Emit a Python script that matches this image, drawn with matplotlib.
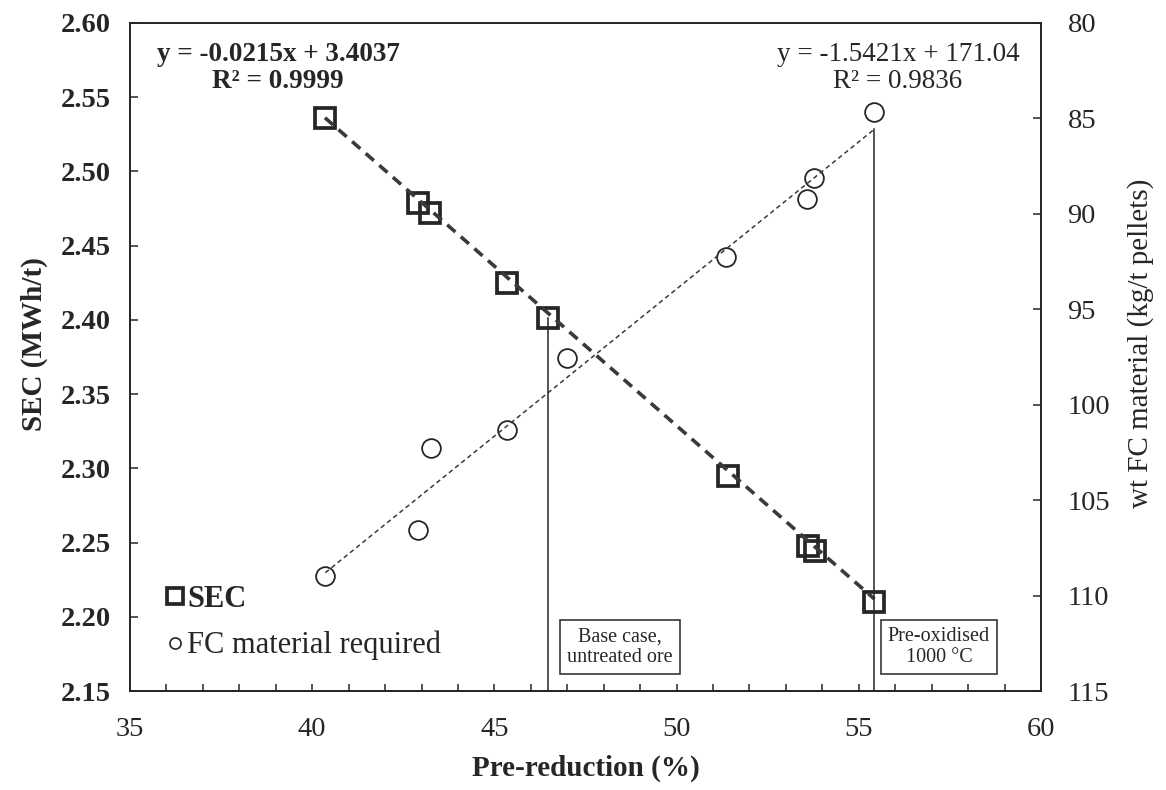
import numpy as np
import matplotlib.pyplot as plt
from matplotlib.lines import Line2D

plt.rcParams['font.family'] = ['Liberation Serif', 'DejaVu Serif']

# Specific energy consumption vs. pre-reduction degree
pre_red_sec = [40.35, 42.91, 43.23, 45.35, 46.46, 51.42, 53.60, 53.80, 55.43]
sec = [2.536, 2.479, 2.472, 2.425, 2.401, 2.295, 2.248, 2.244, 2.210]

# Fossil-carbon material required vs. pre-reduction degree
pre_red_fc = [40.36, 42.91, 43.25, 45.35, 47.00, 51.36, 53.58, 53.76, 55.43]
fc = [109.0, 106.55, 102.26, 101.30, 97.54, 92.24, 89.20, 88.10, 84.65]

# Linear trend lines
sec_slope, sec_icpt, sec_r2 = -0.0215, 3.4037, 0.9999
fc_slope, fc_icpt, fc_r2 = -1.5421, 171.04, 0.9836

base_case_x = 46.46
preox_x = 55.43

INK = '#262626'
LINE = '#3a3a3a'

fig = plt.figure(figsize=(11.66, 7.90), dpi=100)
ax = fig.add_axes([0.1115, 0.1253, 0.7813, 0.8456])
ax2 = ax.twinx()

ax.set_xlim(35, 60)
ax.set_ylim(2.15, 2.60)
ax2.set_ylim(115, 80)

# Data markers
ax.plot(pre_red_sec, sec, ls='none', marker='s', ms=14, mfc='none',
        mec=INK, mew=2.7, zorder=3)
ax2.plot(pre_red_fc, fc, ls='none', marker='o', ms=13.5, mfc='none',
         mec=INK, mew=1.3, zorder=3)

# Trend lines
xs = np.array([min(pre_red_sec), max(pre_red_sec)])
ax.plot(xs, sec_slope * xs + sec_icpt, ls=(0, (3, 2)), lw=2.6, color=LINE, zorder=4)
xf = np.array([min(pre_red_fc), max(pre_red_fc)])
ax2.plot(xf, fc_slope * xf + fc_icpt, ls=(0, (3, 2.2)), lw=1.1, color=LINE, zorder=4)

# Reference cases
base_y = sec[pre_red_sec.index(base_case_x)]
ax.plot([base_case_x, base_case_x], [2.15, base_y], color=INK, lw=1.1, zorder=2)
ax2.plot([preox_x, preox_x], [115, fc_slope * preox_x + fc_icpt], color=INK,
         lw=1.1, zorder=2)

box = dict(boxstyle='square,pad=0.35', fc='white', ec=INK, lw=1.1)
ax.text(48.45, 2.1795, 'Base case,\nuntreated ore', ha='center', va='center',
        fontsize=14.5, color=INK, bbox=box, linespacing=1.15, zorder=5)
ax.text(57.2, 2.1795, 'Pre-oxidised\n1000 \u00b0C', ha='center', va='center',
        fontsize=14.5, color=INK, bbox=box, linespacing=1.15, zorder=5)

# Trend equations
ax.text(0.1625, 0.972, f'y = {sec_slope:.4f}x + {sec_icpt:.4f}\nR\u00b2 = {sec_r2:.4f}',
        transform=ax.transAxes, ha='center', va='top', fontsize=19.5,
        fontweight='bold', color=INK, linespacing=1.12)
ax.text(0.843, 0.972, f'y = {fc_slope:.4f}x + {fc_icpt:.2f}\nR\u00b2 = {fc_r2:.4f}',
        transform=ax.transAxes, ha='center', va='top', fontsize=19.5,
        color=INK, linespacing=1.12)

# Axes formatting
ax.set_xticks(np.arange(35, 61, 5))
ax.set_xticks(np.arange(35, 61, 1), minor=True)
ax.set_yticks(np.arange(2.15, 2.601, 0.05))
ax.yaxis.set_major_formatter(plt.FuncFormatter(lambda v, p: f'{v:.2f}'))
ax2.set_yticks(np.arange(80, 116, 5))

ax.tick_params(axis='x', which='both', direction='in', length=5, width=1.1,
               pad=19, labelsize=20.5, colors=INK)
ax.tick_params(axis='y', which='both', direction='in', length=6, width=1.1,
               pad=14, labelsize=20.5, colors=INK)
ax2.tick_params(axis='y', direction='in', length=6, width=1.1, pad=19,
                labelsize=20.5, colors=INK)
for lab in ax.get_yticklabels():
    lab.set_fontweight('bold')
for a in (ax, ax2):
    for s in a.spines.values():
        s.set_color(INK)
        s.set_linewidth(1.3)

ax.set_xlabel('Pre-reduction (%)', fontsize=21, fontweight='bold', color=INK,
              labelpad=9)
ax.set_ylabel('SEC (MWh/t)', fontsize=21, fontweight='bold', color=INK)
ax2.set_ylabel('wt FC material (kg/t pellets)', fontsize=21, color=INK)
ax.yaxis.set_label_coords(-0.09, 0.52)
ax2.yaxis.set_label_coords(1.094, 0.52)

# Legend
handles = [
    Line2D([], [], ls='none', marker='s', ms=12, mfc='none', mec=INK, mew=2.7),
    Line2D([], [], ls='none', marker='o', ms=8, mfc='none', mec=INK, mew=1.2),
]
leg = ax.legend(handles, ['SEC', 'FC material required'], loc='lower left',
                bbox_to_anchor=(0.0395, 0.046), frameon=False, fontsize=22,
                handlelength=0.6, handletextpad=0.1, labelspacing=0.55,
                borderaxespad=0, borderpad=0)
leg.get_texts()[0].set_fontweight('bold')
for t in leg.get_texts():
    t.set_color(INK)

fig.savefig('out.png', dpi=100)
